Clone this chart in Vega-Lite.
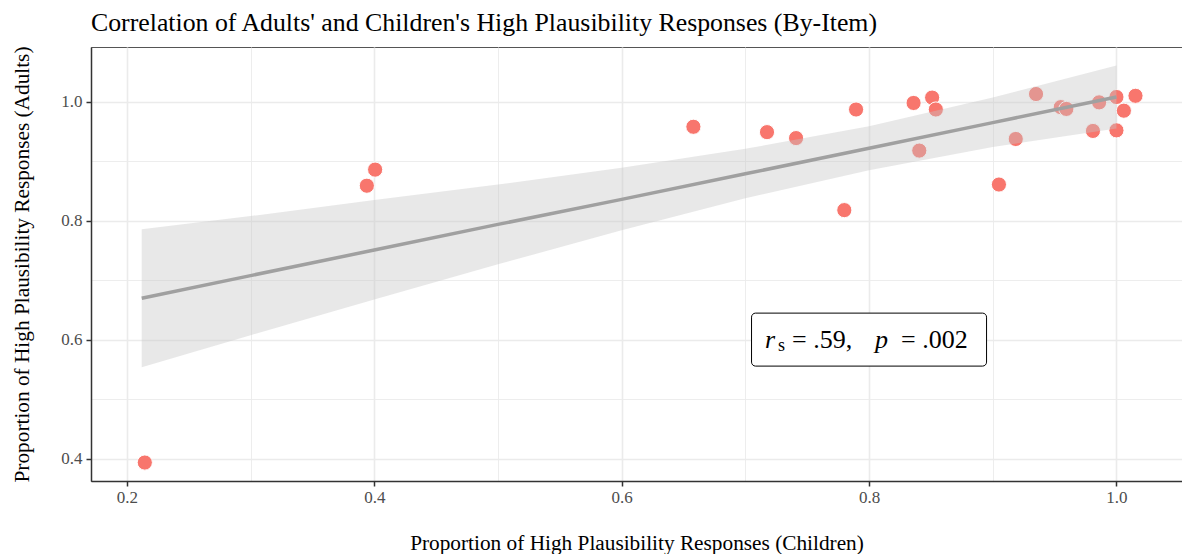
{
  "$schema": "https://vega.github.io/schema/vega-lite/v6.json",
  "width": 1091,
  "height": 434,
  "autosize": "none",
  "padding": {"left": 91, "top": 47, "right": 0, "bottom": 73},
  "background": "white",
  "title": {
    "text": "Correlation of Adults' and Children's High Plausibility Responses (By-Item)",
    "font": "Liberation Serif",
    "fontSize": 25.8,
    "fontWeight": "normal",
    "color": "#000000",
    "anchor": "start",
    "frame": "group",
    "offset": 9
  },
  "config": {
    "view": {"stroke": "#555555", "strokeWidth": 1},
    "axis": {
      "labelFont": "Liberation Serif",
      "titleFont": "Liberation Serif",
      "labelFontSize": 17,
      "labelColor": "#4D4D4D",
      "titleFontSize": 21.3,
      "titleFontWeight": "normal",
      "titleColor": "#000000",
      "domainColor": "#333333",
      "domainWidth": 1.5,
      "tickColor": "#333333",
      "tickWidth": 1.5,
      "gridColor": "#EBEBEB"
    }
  },
  "datasets": {
    "points": [
      {"children": 0.2145, "adults": 0.394},
      {"children": 0.394, "adults": 0.859},
      {"children": 0.4007, "adults": 0.886},
      {"children": 0.658, "adults": 0.958},
      {"children": 0.7175, "adults": 0.949},
      {"children": 0.741, "adults": 0.939},
      {"children": 0.780, "adults": 0.818},
      {"children": 0.7895, "adults": 0.987},
      {"children": 0.836, "adults": 0.998},
      {"children": 0.8406, "adults": 0.918},
      {"children": 0.851, "adults": 1.007},
      {"children": 0.854, "adults": 0.987},
      {"children": 0.905, "adults": 0.861},
      {"children": 0.9186, "adults": 0.9375},
      {"children": 0.935, "adults": 1.013},
      {"children": 0.955, "adults": 0.991},
      {"children": 0.9595, "adults": 0.988},
      {"children": 0.981, "adults": 0.951},
      {"children": 0.986, "adults": 0.999},
      {"children": 1.0, "adults": 1.008},
      {"children": 1.0, "adults": 0.952},
      {"children": 1.006, "adults": 0.985},
      {"children": 1.0154, "adults": 1.010}
    ],
    "fit": [
      {"children": 0.212, "fit": 0.670, "lower": 0.554, "upper": 0.786},
      {"children": 0.3, "fit": 0.708, "lower": 0.608, "upper": 0.808},
      {"children": 0.4, "fit": 0.751, "lower": 0.668, "upper": 0.835},
      {"children": 0.5, "fit": 0.794, "lower": 0.727, "upper": 0.861},
      {"children": 0.6, "fit": 0.836, "lower": 0.784, "upper": 0.889},
      {"children": 0.7, "fit": 0.879, "lower": 0.838, "upper": 0.921},
      {"children": 0.8, "fit": 0.922, "lower": 0.885, "upper": 0.959},
      {"children": 0.9, "fit": 0.965, "lower": 0.924, "upper": 1.007},
      {"children": 1.0, "fit": 1.008, "lower": 0.955, "upper": 1.061}
    ],
    "box": [
      {"x1": 0.705, "x2": 0.895, "y1": 0.556, "y2": 0.645, "cx": 0.8, "cy": 0.6}
    ]
  },
  "layer": [
    {
      "data": {"name": "points"},
      "mark": {"type": "point", "filled": true, "shape": "circle", "size": 230, "color": "#F8766D", "opacity": 1, "stroke": "white", "strokeWidth": 1},
      "encoding": {
        "x": {
          "field": "children", "type": "quantitative",
          "scale": {"domain": [0.171, 1.053], "nice": false, "zero": false},
          "axis": {
            "title": "Proportion of High Plausibility Responses (Children)",
            "values": [0.2, 0.3, 0.4, 0.5, 0.6, 0.7, 0.8, 0.9, 1.0],
            "labelExpr": "round(datum.value*10) % 2 == 0 ? format(datum.value, '.1f') : ''",
            "tickSize": 5,
            "tickOpacity": {"condition": {"test": "round(datum.value*10) % 2 == 0", "value": 1}, "value": 0},
            "gridWidth": {"condition": {"test": "round(datum.value*10) % 2 == 0", "value": 1.6}, "value": 0.9},
            "labelPadding": 3,
            "titlePadding": 27
          }
        },
        "y": {
          "field": "adults", "type": "quantitative",
          "scale": {"domain": [0.363, 1.092], "nice": false, "zero": false},
          "axis": {
            "title": "Proportion of High Plausibility Responses (Adults)",
            "values": [0.4, 0.5, 0.6, 0.7, 0.8, 0.9, 1.0],
            "labelExpr": "round(datum.value*10) % 2 == 0 ? format(datum.value, '.1f') : ''",
            "tickSize": 5,
            "tickOpacity": {"condition": {"test": "round(datum.value*10) % 2 == 0", "value": 1}, "value": 0},
            "gridWidth": {"condition": {"test": "round(datum.value*10) % 2 == 0", "value": 1.6}, "value": 0.9},
            "labelPadding": 4,
            "titlePadding": 28
          }
        }
      }
    },
    {
      "data": {"name": "fit"},
      "mark": {"type": "area", "color": "#C5C5C5", "opacity": 0.4},
      "encoding": {
        "x": {"field": "children", "type": "quantitative"},
        "y": {"field": "lower", "type": "quantitative"},
        "y2": {"field": "upper"}
      }
    },
    {
      "data": {"name": "fit"},
      "mark": {"type": "line", "color": "#A0A0A0", "strokeWidth": 3.5},
      "encoding": {
        "x": {"field": "children", "type": "quantitative"},
        "y": {"field": "fit", "type": "quantitative"}
      }
    },
    {
      "data": {"name": "box"},
      "mark": {"type": "rect", "fill": "white", "stroke": "#000000", "strokeWidth": 1, "cornerRadius": 4},
      "encoding": {
        "x": {"field": "x1", "type": "quantitative"},
        "x2": {"field": "x2"},
        "y": {"field": "y1", "type": "quantitative"},
        "y2": {"field": "y2"}
      }
    },
    {
      "data": {"name": "box"},
      "mark": {"type": "text", "text": "r", "font": "Liberation Serif", "fontStyle": "italic", "fontSize": 26, "align": "left", "baseline": "middle", "dx": -104, "color": "#000000"},
      "encoding": {"x": {"field": "cx", "type": "quantitative"}, "y": {"field": "cy", "type": "quantitative"}}
    },
    {
      "data": {"name": "box"},
      "mark": {"type": "text", "text": "s", "font": "Liberation Serif", "fontSize": 18, "align": "left", "baseline": "middle", "dx": -91, "dy": 6, "color": "#000000"},
      "encoding": {"x": {"field": "cx", "type": "quantitative"}, "y": {"field": "cy", "type": "quantitative"}}
    },
    {
      "data": {"name": "box"},
      "mark": {"type": "text", "text": "= .59,", "font": "Liberation Serif", "fontSize": 26, "align": "left", "baseline": "middle", "dx": -77, "color": "#000000"},
      "encoding": {"x": {"field": "cx", "type": "quantitative"}, "y": {"field": "cy", "type": "quantitative"}}
    },
    {
      "data": {"name": "box"},
      "mark": {"type": "text", "text": "p", "font": "Liberation Serif", "fontStyle": "italic", "fontSize": 26, "align": "left", "baseline": "middle", "dx": 6, "color": "#000000"},
      "encoding": {"x": {"field": "cx", "type": "quantitative"}, "y": {"field": "cy", "type": "quantitative"}}
    },
    {
      "data": {"name": "box"},
      "mark": {"type": "text", "text": "= .002", "font": "Liberation Serif", "fontSize": 26, "align": "left", "baseline": "middle", "dx": 32, "color": "#000000"},
      "encoding": {"x": {"field": "cx", "type": "quantitative"}, "y": {"field": "cy", "type": "quantitative"}}
    }
  ]
}
